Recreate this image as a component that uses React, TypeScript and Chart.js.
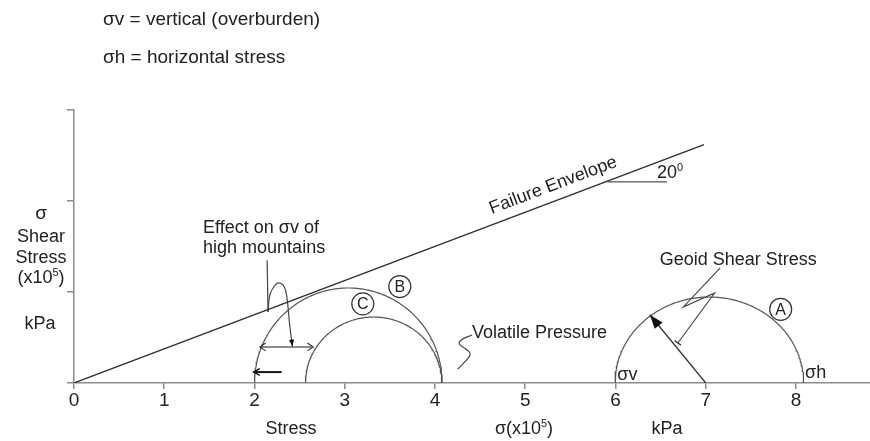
import { useEffect, useRef } from 'react';
import { Chart, registerables } from 'chart.js';

Chart.register(...registerables);

const FONT = '"Liberation Sans", Arial, sans-serif';

// axis ranges and ticks
const X_MIN = 0;
const X_MAX = 8.82;
const Y_MIN = 0;
const Y_MAX = 3;
const xTickValues = [0, 1, 2, 3, 4, 5, 6, 7, 8];
const yTickValues = [0, 1, 2, 3];

// failure envelope and 20 degree reference line
const envelopeX = [0, 6.98];
const envelopeY = [0, 2.62];
const angleRefX = [5.91, 6.57];
const angleRefY = [2.21, 2.21];

// Mohr circles (centre, horizontal radius, height)
const circleNames = ['A', 'B', 'C'];
const circleCenters = [7.04, 3.04, 3.32];
const circleRadii = [1.045, 1.04, 0.755];
const circleHeights = [0.945, 1.044, 0.725];

// radius arrow on circle A
const radiusArrowX = [7.0, 6.38];
const radiusArrowY = [0, 0.75];

// geoid shear stress leader
const geoidLeaderX = [7.16, 6.75, 7.1, 6.69];
const geoidLeaderY = [1.264, 0.835, 0.99, 0.44];

// high mountains leader
const mountainLeaderX = [2.14, 2.15];
const mountainLeaderY = [1.35, 0.78];
const mountainLoopX = [2.15, 2.17, 2.22, 2.27, 2.33, 2.36, 2.39, 2.42];
const mountainLoopY = [0.78, 0.967, 1.066, 1.1, 1.055, 0.934, 0.637, 0.4];

// arrows between circles
const doubleArrowX = [2.06, 2.65];
const doubleArrowY = [0.396, 0.396];
const lowerArrowX = [1.99, 2.3];
const lowerArrowY = [0.12, 0.12];

// volatile pressure squiggle
const squiggleX = [4.41, 4.3, 4.27, 4.34, 4.39, 4.33, 4.25];
const squiggleY = [0.527, 0.478, 0.43, 0.374, 0.319, 0.231, 0.154];

// circled letter positions (data coords)
const circleLabelX = [7.83, 3.61, 3.2];
const circleLabelY = [0.81, 1.06, 0.87];

const zip = (xs: number[], ys: number[]) => xs.map((x, i) => ({ x, y: ys[i] }));

function semicircle(cx: number, r: number, h: number) {
  const pts: { x: number; y: number }[] = [];
  const n = 140;
  for (let i = 0; i <= n; i++) {
    const t = (Math.PI * i) / n;
    pts.push({ x: cx + r * Math.cos(t), y: h * Math.sin(t) });
  }
  return pts;
}

type Part = { t: string; sup?: boolean };

function drawRich(ctx: CanvasRenderingContext2D, parts: Part[], x: number, y: number, align: 'left' | 'center', size: number) {
  const main = `${size}px ${FONT}`;
  const sup = `${Math.round(size * 0.6)}px ${FONT}`;
  let w = 0;
  for (const p of parts) {
    ctx.font = p.sup ? sup : main;
    w += ctx.measureText(p.t).width;
  }
  let cx = align === 'center' ? x - w / 2 : x;
  ctx.textAlign = 'left';
  ctx.textBaseline = 'alphabetic';
  for (const p of parts) {
    ctx.font = p.sup ? sup : main;
    ctx.fillText(p.t, cx, p.sup ? y - size * 0.38 : y);
    cx += ctx.measureText(p.t).width;
  }
}

function filledHead(ctx: CanvasRenderingContext2D, fx: number, fy: number, tx: number, ty: number, len: number, hw: number) {
  const a = Math.atan2(ty - fy, tx - fx);
  const bx = tx - len * Math.cos(a);
  const by = ty - len * Math.sin(a);
  ctx.beginPath();
  ctx.moveTo(tx, ty);
  ctx.lineTo(bx + hw * Math.sin(a), by - hw * Math.cos(a));
  ctx.lineTo(bx - hw * Math.sin(a), by + hw * Math.cos(a));
  ctx.closePath();
  ctx.fill();
}

function openHead(ctx: CanvasRenderingContext2D, fx: number, fy: number, tx: number, ty: number, len: number, spread: number) {
  const a = Math.atan2(ty - fy, tx - fx);
  ctx.beginPath();
  ctx.moveTo(tx - len * Math.cos(a - spread), ty - len * Math.sin(a - spread));
  ctx.lineTo(tx, ty);
  ctx.lineTo(tx - len * Math.cos(a + spread), ty - len * Math.sin(a + spread));
  ctx.stroke();
}

const annotations = {
  id: 'annotations',
  afterDatasetsDraw(chart: any) {
    const ctx: CanvasRenderingContext2D = chart.ctx;
    const xs = chart.scales.x;
    const ys = chart.scales.y;
    const px = (v: number) => xs.getPixelForValue(v);
    const py = (v: number) => ys.getPixelForValue(v);
    ctx.save();
    ctx.fillStyle = '#222';
    ctx.strokeStyle = '#333';

    // header texts
    drawRich(ctx, [{ t: 'σv = vertical (overburden)' }], 103, 25, 'left', 19);
    drawRich(ctx, [{ t: 'σh = horizontal stress' }], 103, 63, 'left', 19);

    // y axis title
    drawRich(ctx, [{ t: 'σ' }], 41, 219, 'center', 19);
    drawRich(ctx, [{ t: 'Shear' }], 41, 242, 'center', 18);
    drawRich(ctx, [{ t: 'Stress' }], 41, 263, 'center', 18);
    drawRich(ctx, [{ t: '(x10' }, { t: '5', sup: true }, { t: ')' }], 41, 283, 'center', 18);
    drawRich(ctx, [{ t: 'kPa' }], 40, 329, 'center', 18);

    // x axis titles
    drawRich(ctx, [{ t: 'Stress' }], 291, 434, 'center', 18);
    drawRich(ctx, [{ t: 'σ(x10' }, { t: '5', sup: true }, { t: ')' }], 524, 434, 'center', 18);
    drawRich(ctx, [{ t: 'kPa' }], 667, 434, 'center', 18);

    // failure envelope label
    const ang = Math.atan2(py(envelopeY[1]) - py(envelopeY[0]), px(envelopeX[1]) - px(envelopeX[0]));
    ctx.save();
    ctx.translate(px(5.33), py(2.12));
    ctx.rotate(ang);
    drawRich(ctx, [{ t: 'Failure Envelope' }], 0, 0, 'center', 18);
    ctx.restore();

    // 20 degrees
    drawRich(ctx, [{ t: '20' }, { t: '0', sup: true }], px(6.46), py(2.25), 'left', 18);

    // text labels in plot
    drawRich(ctx, [{ t: 'Effect on σv of' }], px(1.43), py(1.65), 'left', 18);
    drawRich(ctx, [{ t: 'high mountains' }], px(1.43), py(1.43), 'left', 18);
    drawRich(ctx, [{ t: 'Geoid Shear Stress' }], px(6.49), py(1.3), 'left', 18);
    drawRich(ctx, [{ t: 'Volatile Pressure' }], px(4.41), py(0.495), 'left', 18);
    drawRich(ctx, [{ t: 'σv' }], px(6.02), py(0.03), 'left', 18);
    drawRich(ctx, [{ t: 'σh' }], px(8.1), py(0.055), 'left', 18);

    // circled letters
    ctx.lineWidth = 1.2;
    for (let i = 0; i < circleNames.length; i++) {
      const cx = px(circleLabelX[i]);
      const cy = py(circleLabelY[i]);
      ctx.beginPath();
      ctx.arc(cx, cy, 11, 0, Math.PI * 2);
      ctx.stroke();
      ctx.font = `16px ${FONT}`;
      ctx.textAlign = 'center';
      ctx.textBaseline = 'middle';
      ctx.fillText(circleNames[i], cx, cy + 1);
    }

    // arrow heads
    ctx.fillStyle = '#111';
    filledHead(ctx, px(radiusArrowX[0]), py(radiusArrowY[0]), px(radiusArrowX[1]), py(radiusArrowY[1]), 14, 5);
    const n = mountainLoopX.length;
    filledHead(ctx, px(mountainLoopX[n - 2]), py(mountainLoopY[n - 2]), px(mountainLoopX[n - 1]), py(mountainLoopY[n - 1]), 7, 2.5);
    ctx.strokeStyle = '#333';
    ctx.lineWidth = 1.1;
    openHead(ctx, px(doubleArrowX[1]), py(doubleArrowY[1]), px(doubleArrowX[0]), py(doubleArrowY[0]), 7, 0.6);
    openHead(ctx, px(doubleArrowX[0]), py(doubleArrowY[0]), px(doubleArrowX[1]), py(doubleArrowY[1]), 7, 0.6);
    ctx.strokeStyle = '#111';
    ctx.lineWidth = 1.4;
    openHead(ctx, px(lowerArrowX[1]), py(lowerArrowY[1]), px(lowerArrowX[0]), py(lowerArrowY[0]), 7, 0.5);

    // tick at end of geoid leader
    const g = geoidLeaderX.length;
    const ex = px(geoidLeaderX[g - 1]);
    const ey = py(geoidLeaderY[g - 1]);
    const ga = Math.atan2(ey - py(geoidLeaderY[g - 2]), ex - px(geoidLeaderX[g - 2]));
    ctx.strokeStyle = '#222';
    ctx.lineWidth = 1.3;
    ctx.beginPath();
    ctx.moveTo(ex - 4 * Math.sin(ga), ey + 4 * Math.cos(ga));
    ctx.lineTo(ex + 4 * Math.sin(ga), ey - 4 * Math.cos(ga));
    ctx.stroke();

    ctx.restore();
  },
};

const lineDs = (data: { x: number; y: number }[], color: string, width: number, tension = 0) => ({
  data,
  showLine: true,
  borderColor: color,
  borderWidth: width,
  pointRadius: 0,
  fill: false,
  tension,
});

export default function App() {
  const ref = useRef<HTMLCanvasElement>(null);
  useEffect(() => {
    const datasets: any[] = [
      lineDs(zip(envelopeX, envelopeY), '#2e2e2e', 1.3),
      lineDs(zip(angleRefX, angleRefY), '#555', 1.2),
      ...circleNames.map((_, i) => lineDs(semicircle(circleCenters[i], circleRadii[i], circleHeights[i]), '#555', 1.2)),
      lineDs(zip(radiusArrowX, radiusArrowY), '#333', 1.3),
      lineDs(zip(geoidLeaderX, geoidLeaderY), '#444', 1.1),
      lineDs(zip(mountainLeaderX, mountainLeaderY), '#444', 1.2),
      lineDs(zip(mountainLoopX, mountainLoopY), '#444', 1.2, 0.4),
      lineDs(zip(doubleArrowX, doubleArrowY), '#666', 1.4),
      lineDs(zip(lowerArrowX, lowerArrowY), '#111', 2),
      lineDs(zip(squiggleX, squiggleY), '#444', 1.2, 0.45),
    ];
    const axisColor = '#8c8c8c';
    const chart = new Chart(ref.current as HTMLCanvasElement, {
      type: 'scatter',
      data: { datasets },
      options: {
        responsive: false,
        animation: false,
        devicePixelRatio: 1,
        events: [],
        layout: { padding: { top: 110, left: 0, right: 0, bottom: 0 } },
        plugins: { legend: { display: false }, tooltip: { enabled: false } },
        scales: {
          x: {
            type: 'linear',
            min: X_MIN,
            max: X_MAX,
            afterBuildTicks: (s: any) => {
              s.ticks = xTickValues.map((v) => ({ value: v }));
            },
            afterFit: (s: any) => {
              s.height = 58;
            },
            grid: { drawOnChartArea: false, drawTicks: true, tickLength: 6, color: axisColor, lineWidth: 1.5 },
            border: { display: true, color: axisColor, width: 1.5 },
            ticks: {
              padding: 0,
              color: '#222',
              font: { family: FONT, size: 19 },
              maxRotation: 0,
              autoSkip: false,
              callback: (v: any) => String(v),
            },
          },
          y: {
            type: 'linear',
            min: Y_MIN,
            max: Y_MAX,
            afterBuildTicks: (s: any) => {
              s.ticks = yTickValues.map((v) => ({ value: v }));
            },
            afterFit: (s: any) => {
              s.width = 74;
            },
            grid: { drawOnChartArea: false, drawTicks: true, tickLength: 7, color: axisColor, lineWidth: 1.5 },
            border: { display: true, color: axisColor, width: 1.5 },
            ticks: { callback: () => '', padding: 0 },
          },
        },
      },
      plugins: [annotations],
    } as any);
    return () => chart.destroy();
  }, []);
  return (
    <div style={{ position: 'fixed', left: 0, top: 0, width: 870, height: 441, background: '#fff' }}>
      <canvas ref={ref} width={870} height={441} style={{ display: 'block', width: 870, height: 441 }} />
    </div>
  );
}
